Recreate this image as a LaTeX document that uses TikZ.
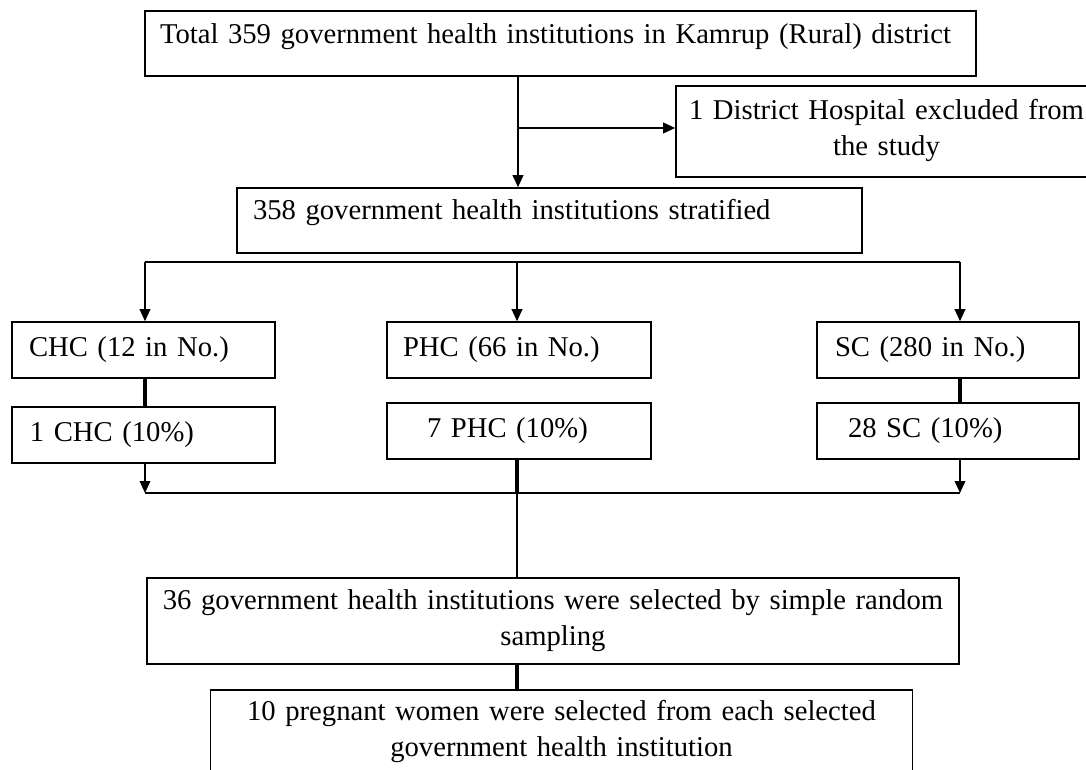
\documentclass[tikz,border=0pt]{standalone}
\usepackage{fontspec}
\setmainfont{Liberation Serif}
\usetikzlibrary{arrows.meta}

\tikzset{
  box/.style={draw, line width=1.2pt, rectangle, inner ysep=0pt,
    font=\fontsize{21.5}{27}\selectfont, text height=15pt, text depth=6pt},
  twoline/.style={box, align=center, text height=15pt, text depth=33pt},
  link/.style={line width=1.1pt},
  arr/.style={line width=1.1pt, -{Triangle[length=9pt,width=8pt]}},
  thickline/.style={line width=2.6pt}
}

\begin{document}
\begin{tikzpicture}[x=0.75pt,y=-0.75pt]
\path[use as bounding box, fill=white] (0,0) rectangle (1086,770);
\clip (0,0) rectangle (1086,770);

\node at (560.5,43.5)[box, align=left, text width=600.75pt, inner xsep=11.25pt, minimum height=48.75pt, text depth=15pt] (top) {Total 359 government health institutions in Kamrup (Rural) district};
\node at (886.5,131.5)[twoline, text width=300pt, inner xsep=7.875pt, minimum height=68.25pt] (excl) {1 District Hospital excluded from\\the study};
\node at (549.5,220.5)[box, align=left, text width=444.75pt, inner xsep=12pt, minimum height=48.75pt, text depth=17pt] (strat) {358 government health institutions stratified};

% three strata
\node at (143.5,350)[box, align=left, text width=171.75pt, inner xsep=12.75pt, minimum height=42pt] (chc) {CHC (12 in No.)};
\node at (519,350)[box, align=left, text width=174pt, inner xsep=12pt, minimum height=42pt] (phc) {PHC (66 in No.)};
\node at (948,350)[box, align=left, text width=169.5pt, inner xsep=13.5pt, minimum height=42pt] (sc) {SC (280 in No.)};

% ten percent of each
\node at (143.5,435)[box, align=left, text width=170.25pt, inner xsep=13.5pt, minimum height=42pt] (chcs) {1 CHC (10\%)};
\node at (519,431)[box, align=left, text width=138pt, inner xsep=30pt, minimum height=42pt] (phcs) {7 PHC (10\%)};
\node at (948,431)[box, align=left, text width=150pt, inner xsep=23.25pt, minimum height=42pt] (scs) {28 SC (10\%)};

\node at (553,621)[twoline, text width=590pt, inner xsep=9.5pt, minimum height=64.5pt] (rand) {36 government health institutions were selected by simple random\\sampling};
\node at (561.5,732)[twoline, text width=510pt, inner xsep=8.25pt, minimum height=63pt] (preg) {10 pregnant women were selected from each selected\\government health institution};

\coordinate (split) at (518,128);
\draw[arr] (top.south -| split) -- (strat.north -| split);
\draw[arr] (split) -- (split -| excl.west);

\coordinate (brL) at (145,262);
\coordinate (brM) at (517,262);
\coordinate (brR) at (960,262);
\draw[link] (brL) -- (brR);
\draw[arr] (brL) -- (brL |- chc.north);
\draw[arr] (brM) -- (brM |- phc.north);
\draw[arr] (brR) -- (brR |- sc.north);

\draw[thickline] (chc.south -| brL) -- (chcs.north -| brL);
\draw[thickline] (sc.south -| brR) -- (scs.north -| brR);

\coordinate (jL) at (145,493);
\coordinate (jM) at (517,493);
\coordinate (jR) at (960,493);
\draw[arr] (chcs.south -| jL) -- (jL);
\draw[arr] (scs.south -| jR) -- (jR);
\draw[link] (jL) -- (jR);
\draw[thickline] (phcs.south -| jM) -- (jM);
\draw[link] (jM) -- (jM |- rand.north);
\draw[thickline] (rand.south -| jM) -- (jM |- preg.north);
\end{tikzpicture}
\end{document}
